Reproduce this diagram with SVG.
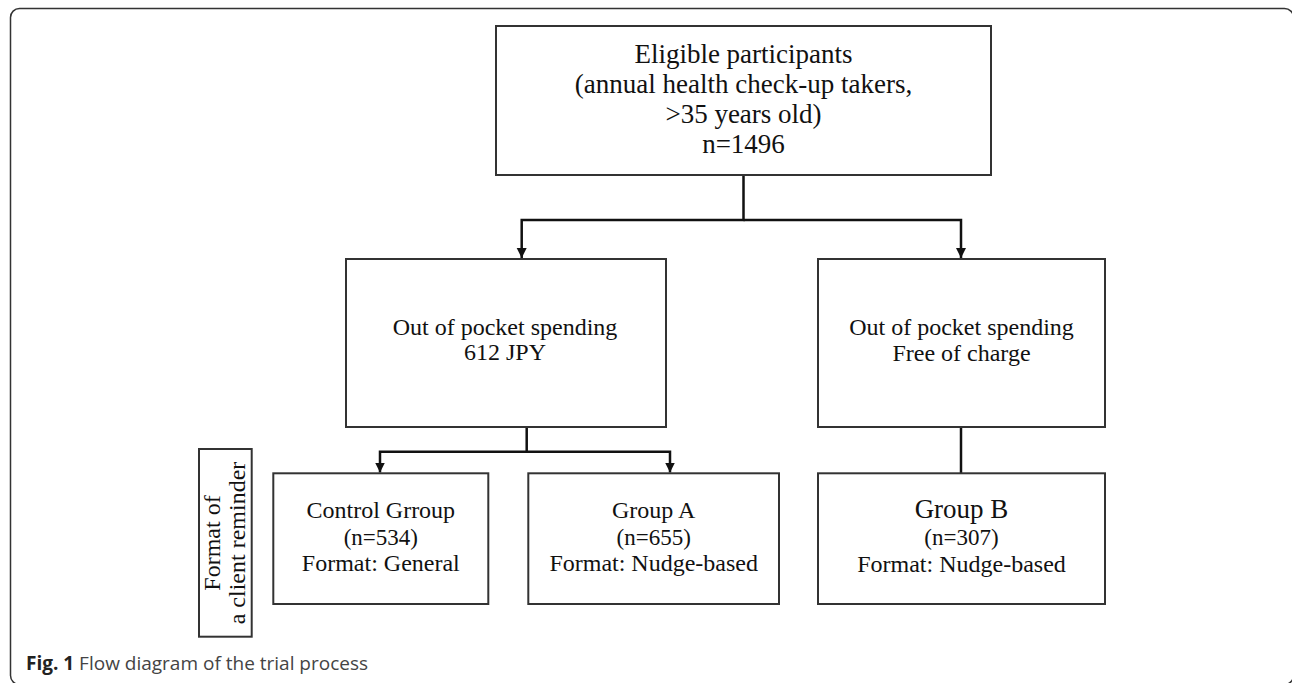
<svg xmlns="http://www.w3.org/2000/svg" width="1292" height="683" viewBox="0 0 1292 683">
<style>
  .frame { fill: none; stroke: #333; stroke-width: 1.5; }
  .box { fill: #fff; stroke: #333; stroke-width: 2; }
  .conn { fill: none; stroke: #111; stroke-width: 2.5; }
  .t { font-family: "Liberation Serif", "Times New Roman", serif; fill: #111; text-anchor: middle; }
  .cap { font-family: "Open Sans", "Liberation Sans", sans-serif; font-size: 19px; }
</style>
<defs>
  <marker id="arr" markerUnits="userSpaceOnUse" markerWidth="11" markerHeight="11" refX="10" refY="5" orient="auto">
    <path d="M0,0 L10,5 L0,10 z" fill="#111"/>
  </marker>
</defs>
<rect width="1292" height="683" fill="#fff"/>
<rect class="frame" x="10.5" y="8.5" width="1283" height="676" rx="9"/>

<g id="connectors">
  <path class="conn" d="M743.5,175 V220 H521.7 V258" marker-end="url(#arr)"/>
  <path class="conn" d="M743.5,220 H961 V258" marker-end="url(#arr)"/>
  <path class="conn" d="M526.7,427 V451.7 H380 V472.5" marker-end="url(#arr)"/>
  <path class="conn" d="M526.7,451.7 H670 V472.5" marker-end="url(#arr)"/>
  <path class="conn" d="M961,427 V473.3"/>
</g>

<g id="eligible">
  <rect class="box" x="496" y="26" width="495" height="149"/>
  <text class="t" font-size="27" x="743.5" y="63">Eligible participants</text>
  <text class="t" font-size="27" x="743.5" y="92.5">(annual health check-up takers,</text>
  <text class="t" font-size="27" x="743.5" y="122.5">&gt;35 years old)</text>
  <text class="t" font-size="27" x="743.5" y="153">n=1496</text>
</g>

<g id="spend612">
  <rect class="box" x="346" y="259" width="320" height="168"/>
  <text class="t" font-size="24" x="505" y="335">Out of pocket spending</text>
  <text class="t" font-size="24" x="505" y="360">612 JPY</text>
</g>

<g id="spendfree">
  <rect class="box" x="818" y="259" width="287" height="168"/>
  <text class="t" font-size="24" x="961.5" y="335">Out of pocket spending</text>
  <text class="t" font-size="24" x="961.5" y="361">Free of charge</text>
</g>

<g id="control">
  <rect class="box" x="273.3" y="473.3" width="215" height="130.7"/>
  <text class="t" font-size="24" x="380.8" y="518.3">Control Grroup</text>
  <text class="t" font-size="23" x="380.8" y="545">(n=534)</text>
  <text class="t" font-size="24" x="380.8" y="571">Format: General</text>
</g>

<g id="groupA">
  <rect class="box" x="528.3" y="473.3" width="250.7" height="130.7"/>
  <text class="t" font-size="24" x="653.7" y="518.3">Group A</text>
  <text class="t" font-size="23" x="653.7" y="545">(n=655)</text>
  <text class="t" font-size="24" x="653.7" y="571">Format: Nudge-based</text>
</g>

<g id="groupB">
  <rect class="box" x="818" y="473.3" width="287" height="130.7"/>
  <text class="t" font-size="27" x="961.5" y="518.3">Group B</text>
  <text class="t" font-size="23" x="961.5" y="545">(n=307)</text>
  <text class="t" font-size="24" x="961.5" y="571.7">Format: Nudge-based</text>
</g>

<g id="format-label">
  <rect class="box" x="199" y="449" width="52.7" height="187.7"/>
  <text class="t" font-size="24" transform="translate(219.5,543) rotate(-90)">Format of</text>
  <text class="t" font-size="24" transform="translate(245,543) rotate(-90)">a client reminder</text>
</g>

<g id="caption">
  <text class="cap" x="26" y="670"><tspan font-weight="bold" fill="#222">Fig. 1</tspan><tspan fill="#444"> Flow diagram of the trial process</tspan></text>
</g>
</svg>
